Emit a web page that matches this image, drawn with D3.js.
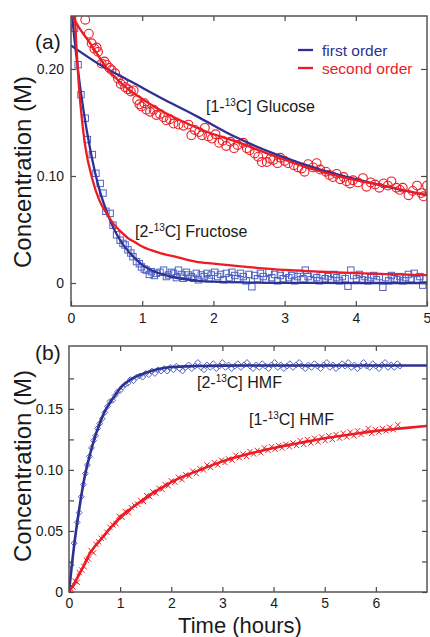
<!DOCTYPE html>
<html lang="en">
	<head>
		<meta charset="utf-8">
		<title>Glucose / Fructose kinetics</title>
		<script src="https://d3js.org/d3.v7.min.js"></script>
		<style>
			body { margin: 0; background: #fff; }
			text { font-family: 'Liberation Sans', Arial, sans-serif; fill: #1a1a1a; }
			.frame { fill: none; stroke: #4a4a4a; stroke-width: 1.4; }
			.axis path { display: none; }
			.axis line { stroke: #4a4a4a; stroke-width: 1.2; }
			.axis text { font-size: 14px; }
		</style>
	</head>
	<body>
		<script>
			var w = 430;
			var h = 637;

			// ---- panel (a) ticks
			var aXTicks = [0, 1, 2, 3, 4, 5];
			var aYTicks = [0, 0.1, 0.2];
			var aYLabels = ["0", "0.10", "0.20"];

			// ---- panel (b) ticks
			var bXTicks = [0, 1, 2, 3, 4, 5, 6];
			var bYTicks = [0, 0.05, 0.10, 0.15];
			var bYLabels = ["0", "0.05", "0.10", "0.15"];
			var bYMinor = [0.025, 0.075, 0.125, 0.175];

			// ---- panel (a) data: [time (h), concentration (M)]
			var glucosePts = [
				[0.20,0.246],[0.25,0.233],[0.29,0.224],[0.33,0.219],[0.36,0.220],[0.38,0.216],[0.43,0.205],[0.47,0.207],
				[0.50,0.204],[0.54,0.201],[0.57,0.199],[0.62,0.196],[0.66,0.191],[0.70,0.186],[0.73,0.188],[0.76,0.183],
				[0.80,0.181],[0.84,0.179],[0.88,0.180],[0.93,0.171],[0.96,0.167],[0.99,0.165],[1.03,0.168],[1.06,0.162],
				[1.11,0.160],[1.16,0.162],[1.20,0.157],[1.25,0.158],[1.30,0.155],[1.34,0.152],[1.39,0.153],[1.44,0.149],
				[1.51,0.148],[1.58,0.147],[1.65,0.148],[1.69,0.138],[1.74,0.143],[1.80,0.141],[1.84,0.138],[1.88,0.145],
				[1.93,0.137],[1.98,0.135],[2.03,0.139],[2.08,0.131],[2.13,0.133],[2.18,0.128],[2.24,0.132],[2.29,0.126],
				[2.34,0.129],[2.42,0.131],[2.47,0.126],[2.51,0.124],[2.58,0.121],[2.63,0.118],[2.68,0.113],[2.75,0.113],
				[2.80,0.116],[2.84,0.115],[2.90,0.112],[2.94,0.117],[3.00,0.114],[3.05,0.112],[3.13,0.110],[3.19,0.108],
				[3.24,0.107],[3.28,0.104],[3.33,0.111],[3.40,0.108],[3.45,0.112],[3.50,0.106],[3.58,0.104],[3.63,0.101],
				[3.68,0.099],[3.73,0.102],[3.78,0.097],[3.83,0.099],[3.87,0.095],[3.92,0.093],[3.96,0.096],[4.03,0.094],
				[4.10,0.098],[4.15,0.090],[4.21,0.094],[4.27,0.092],[4.33,0.089],[4.39,0.093],[4.45,0.091],[4.50,0.095],
				[4.57,0.089],[4.62,0.087],[4.66,0.089],[4.74,0.082],[4.80,0.086],[4.86,0.091],[4.92,0.084],[4.95,0.081],
				[5.00,0.091]
			];
			var fructosePts = [
				[0.05,0.238],[0.10,0.204],[0.14,0.176],[0.20,0.154],[0.23,0.134],[0.30,0.120],[0.35,0.1025],[0.41,0.093],
				[0.45,0.084],[0.49,0.067],[0.55,0.065],[0.59,0.054],[0.64,0.045],[0.69,0.040],[0.73,0.037],[0.76,0.0355],
				[0.80,0.031],[0.84,0.028],[0.87,0.0246],[0.92,0.020],[0.96,0.018],[0.99,0.015],[1.03,0.013],[1.06,0.012],
				[1.10,0.008],[1.13,0.0106],[1.17,0.007],[1.20,0.009],[1.25,0.010],[1.30,0.012],[1.34,0.006],[1.37,0.0075],
				[1.41,0.010],[1.44,0.009],[1.48,0.005],[1.51,0.012],[1.55,0.008],[1.58,0.0044],[1.62,0.010],[1.65,0.0075],
				[1.69,0.006],[1.72,0.0044],[1.76,0.009],[1.79,0.003],[1.83,0.0075],[1.87,0.006],[1.91,0.009],[1.94,0.004],
				[1.97,0.0075],[2.02,0.010],[2.06,0.006],[2.10,0.008],[2.14,0.003],[2.18,0.009],[2.22,0.005],[2.26,0.010],
				[2.30,0.007],[2.34,0.004],[2.38,0.009],[2.42,0.006],[2.46,0.002],[2.50,0.008],[2.54,-0.0035],[2.58,0.007],
				[2.62,0.004],[2.66,0.009],[2.70,0.006],[2.74,0.003],[2.78,0.010],[2.82,0.005],[2.86,0.008],[2.90,0.002],
				[2.94,0.007],[2.98,0.004],[3.02,0.009],[3.06,0.005],[3.10,0.007],[3.14,0.002],[3.18,0.006],[3.22,0.009],
				[3.26,0.004],[3.29,0.012],[3.33,0.006],[3.37,0.003],[3.41,0.008],[3.45,0.005],[3.49,0.002],[3.53,0.007],
				[3.57,0.004],[3.61,0.006],[3.65,0.003],[3.69,0.008],[3.73,0.005],[3.77,0.002],[3.81,0.006],[3.85,0.004],
				[3.89,-0.003],[3.93,0.012],[3.97,0.007],[4.01,0.004],[4.05,0.008],[4.09,0.003],[4.13,0.006],[4.17,0.002],
				[4.21,0.005],[4.25,0.007],[4.29,0.003],[4.33,0.006],[4.38,-0.004],[4.42,0.005],[4.46,0.002],[4.50,0.007],
				[4.54,0.004],[4.58,0.003],[4.62,0.006],[4.66,0.002],[4.70,0.005],[4.74,0.008],[4.78,0.004],[4.82,0.009],
				[4.86,0.003],[4.90,0.006],[4.94,-0.002],[4.98,0.004]
			];
			// fitted curves, panel (a)
			var glucoseFirst = [[0,0.222],[0.38,0.205],[0.85,0.188],[1.32,0.171],[1.79,0.155],[2.26,0.138],[2.89,0.120],[3.5,0.106],[4,0.097],[4.5,0.089],[5,0.082]];
			var glucoseSecond = [[0,0.252],[0.1,0.240],[0.27,0.224],[0.5,0.201],[0.76,0.1835],[1.0,0.172],[1.32,0.159],[1.6,0.150],[1.88,0.142],[2.37,0.131],[2.8,0.120],[3.31,0.108],[3.8,0.099],[4.24,0.093],[4.6,0.088],[5.0,0.082]];
			var fructoseFirst = [[0,0.26],[0.05,0.227],[0.1,0.198],[0.15,0.173],[0.2,0.151],[0.25,0.132],[0.3,0.115],[0.35,0.100],[0.4,0.087],[0.5,0.067],[0.6,0.051],[0.7,0.039],[0.8,0.030],[0.9,0.023],[1.0,0.017],[1.2,0.010],[1.4,0.006],[1.6,0.0035],[1.8,0.002],[2.0,0.0012],[2.5,0.0004],[3,0.0001],[4,0],[5,0]];
			var fructoseSecond = [[0,0.40],[0.02,0.33],[0.05,0.26],[0.1,0.195],[0.15,0.155],[0.2,0.128],[0.3,0.097],[0.4,0.077],[0.5,0.065],[0.6,0.055],[0.7,0.048],[0.8,0.042],[0.9,0.038],[1.0,0.034],[1.25,0.028],[1.5,0.024],[1.75,0.020],[2,0.018],[2.5,0.0148],[3,0.0122],[3.5,0.0105],[4,0.0092],[4.5,0.0082],[5,0.0074]];

			// ---- panel (b) data
			var hmf2Pts = [
				[0.04,0.022],[0.10,0.040],[0.16,0.057],[0.20,0.065],[0.24,0.078],[0.28,0.088],[0.32,0.097],[0.36,0.104],
				[0.40,0.111],[0.44,0.118],[0.48,0.124],[0.52,0.128],[0.56,0.134],[0.60,0.138],[0.65,0.142],[0.70,0.147],
				[0.75,0.152],[0.80,0.156],[0.85,0.157],[0.90,0.161],[0.95,0.164],[1.00,0.165],[1.05,0.168],[1.10,0.170],
				[1.15,0.171],[1.20,0.174],[1.26,0.173],[1.32,0.176],[1.38,0.177],[1.44,0.176],[1.50,0.179],[1.56,0.178],
				[1.62,0.181],[1.68,0.179],[1.74,0.182],[1.80,0.181],[1.86,0.183],[1.92,0.181],[1.98,0.184],[2.04,0.182],
				[2.10,0.185],[2.16,0.183],[2.22,0.181],[2.28,0.184],[2.34,0.186],[2.40,0.183],[2.46,0.185],[2.52,0.188],
				[2.58,0.184],[2.64,0.182],[2.70,0.186],[2.76,0.184],[2.82,0.187],[2.88,0.183],[2.94,0.185],[3.00,0.188],
				[3.06,0.184],[3.12,0.186],[3.18,0.183],[3.24,0.185],[3.30,0.187],[3.36,0.184],[3.42,0.186],[3.48,0.188],
				[3.54,0.185],[3.60,0.183],[3.66,0.186],[3.72,0.184],[3.78,0.187],[3.84,0.185],[3.90,0.183],[3.96,0.186],
				[4.02,0.188],[4.08,0.184],[4.14,0.186],[4.20,0.183],[4.26,0.185],[4.32,0.187],[4.38,0.184],[4.44,0.186],
				[4.50,0.188],[4.56,0.185],[4.62,0.183],[4.68,0.186],[4.74,0.184],[4.80,0.187],[4.86,0.185],[4.92,0.183],
				[4.98,0.186],[5.04,0.188],[5.10,0.184],[5.16,0.186],[5.22,0.183],[5.28,0.185],[5.34,0.187],[5.40,0.185],
				[5.46,0.188],[5.52,0.184],[5.58,0.186],[5.64,0.183],[5.70,0.185],[5.76,0.188],[5.82,0.185],[5.88,0.184],
				[5.94,0.187],[6.00,0.185],[6.06,0.183],[6.12,0.186],[6.18,0.188],[6.24,0.184],[6.30,0.186],[6.36,0.184],
				[6.42,0.187],[6.47,0.185]
			];
			var hmf1Pts = [
				[0.03,0.003],[0.08,0.004],[0.12,0.009],[0.16,0.008],[0.20,0.016],[0.25,0.018],[0.29,0.021],[0.34,0.026],
				[0.38,0.027],[0.43,0.034],[0.48,0.032],[0.53,0.039],[0.58,0.041],[0.63,0.044],[0.68,0.045],[0.74,0.049],
				[0.80,0.053],[0.86,0.055],[0.92,0.056],[0.98,0.062],[1.04,0.061],[1.10,0.066],[1.16,0.065],[1.22,0.069],
				[1.28,0.071],[1.34,0.072],[1.40,0.075],[1.46,0.074],[1.52,0.079],[1.58,0.078],[1.64,0.082],[1.70,0.081],
				[1.76,0.085],[1.82,0.084],[1.88,0.088],[1.94,0.087],[2.00,0.091],[2.07,0.090],[2.14,0.094],[2.21,0.092],
				[2.28,0.096],[2.35,0.095],[2.42,0.099],[2.49,0.097],[2.56,0.101],[2.63,0.100],[2.70,0.104],[2.77,0.102],
				[2.84,0.106],[2.91,0.104],[2.98,0.108],[3.05,0.106],[3.12,0.109],[3.19,0.108],[3.26,0.112],[3.33,0.110],
				[3.40,0.113],[3.47,0.111],[3.54,0.115],[3.61,0.113],[3.68,0.116],[3.75,0.114],[3.82,0.118],[3.89,0.116],
				[3.96,0.119],[4.03,0.117],[4.10,0.120],[4.17,0.118],[4.24,0.121],[4.31,0.119],[4.38,0.122],[4.45,0.120],
				[4.52,0.124],[4.59,0.121],[4.66,0.125],[4.73,0.122],[4.80,0.126],[4.87,0.123],[4.94,0.127],[5.01,0.124],
				[5.08,0.128],[5.15,0.125],[5.22,0.129],[5.29,0.126],[5.36,0.130],[5.43,0.127],[5.50,0.131],[5.57,0.128],
				[5.64,0.132],[5.71,0.129],[5.78,0.131],[5.85,0.134],[5.92,0.130],[5.99,0.133],[6.06,0.131],[6.13,0.134],
				[6.20,0.132],[6.27,0.135],[6.34,0.133],[6.43,0.137]
			];
			var hmf2Fit = [[0,0],[0.1,0.038],[0.2,0.068],[0.3,0.093],[0.4,0.111],[0.5,0.126],[0.6,0.138],[0.7,0.148],[0.8,0.155],[0.9,0.161],[1.0,0.167],[1.2,0.174],[1.4,0.178],[1.6,0.181],[1.8,0.183],[2.0,0.1843],[2.5,0.1851],[3,0.1854],[4,0.1855],[5,0.1855],[7,0.1855]];
			var hmf1Fit = [[0,0],[0.1,0.0068],[0.2,0.0145],[0.3,0.0225],[0.4,0.031],[0.5,0.037],[0.6,0.042],[0.8,0.052],[1.0,0.061],[1.2,0.068],[1.4,0.074],[1.6,0.080],[1.8,0.085],[2.0,0.090],[2.5,0.099],[3.0,0.107],[3.5,0.113],[4.0,0.118],[4.5,0.122],[5.0,0.126],[5.5,0.129],[6.0,0.132],[6.5,0.134],[7.0,0.136]];

			var blue = "#2e3192";
			var blueMark = "#4f63c4";
			var red = "#ec1c24";

			var svg = d3.select("body")
						.append("svg")
						.attr("width", w)
						.attr("height", h);

			// ================= PANEL (a)
			var ax = {l: 71, r: 427, t: 16, b: 306};
			var xA = d3.scaleLinear().domain([0, 5]).range([ax.l, ax.r]);
			var yA = d3.scaleLinear().domain([-0.0215, 0.2495]).range([ax.b, ax.t]);

			svg.append("clipPath").attr("id", "clipA")
				.append("rect").attr("x", ax.l).attr("y", ax.t)
				.attr("width", ax.r - ax.l).attr("height", ax.b - ax.t);

			var gA = svg.append("g").attr("clip-path", "url(#clipA)");

			gA.selectAll("circle.glu")
				.data(glucosePts)
				.enter()
				.append("circle")
				.attr("class", "glu")
				.attr("cx", function(d) { return xA(d[0]); })
				.attr("cy", function(d) { return yA(d[1]); })
				.attr("r", 4.4)
				.attr("fill", "none")
				.attr("stroke", red)
				.attr("stroke-width", 1.1);

			gA.selectAll("rect.fru")
				.data(fructosePts)
				.enter()
				.append("rect")
				.attr("class", "fru")
				.attr("x", function(d) { return xA(d[0]) - 3.2; })
				.attr("y", function(d) { return yA(d[1]) - 3.2; })
				.attr("width", 6.4)
				.attr("height", 6.4)
				.attr("fill", "none")
				.attr("stroke", blueMark)
				.attr("stroke-width", 1);

			var lineA = d3.line()
				.x(function(d) { return xA(d[0]); })
				.y(function(d) { return yA(d[1]); })
				.curve(d3.curveMonotoneX);

			[[glucoseFirst, blue], [fructoseFirst, blue], [glucoseSecond, red], [fructoseSecond, red]].forEach(function(s) {
				gA.append("path")
					.datum(s[0])
					.attr("d", lineA)
					.attr("fill", "none")
					.attr("stroke", s[1])
					.attr("stroke-width", 2.3);
			});

			svg.append("rect").attr("class", "frame")
				.attr("x", ax.l).attr("y", ax.t)
				.attr("width", ax.r - ax.l).attr("height", ax.b - ax.t);

			svg.append("g").attr("class", "axis")
				.attr("transform", "translate(0," + ax.b + ")")
				.call(d3.axisBottom(xA).tickValues(aXTicks).tickSize(-5).tickPadding(7).tickFormat(d3.format("d")));
			svg.append("g").attr("class", "axis")
				.attr("transform", "translate(0," + ax.t + ")")
				.call(d3.axisTop(xA).tickValues(aXTicks.slice(1, -1)).tickSize(-5).tickFormat(""));
			svg.append("g").attr("class", "axis")
				.attr("transform", "translate(" + ax.l + ",0)")
				.call(d3.axisLeft(yA).tickValues(aYTicks).tickSize(-5).tickPadding(7)
					.tickFormat(function(d, i) { return aYLabels[i]; }));
			svg.append("g").attr("class", "axis")
				.attr("transform", "translate(" + ax.r + ",0)")
				.call(d3.axisRight(yA).tickValues(aYTicks).tickSize(-6).tickFormat(""));

			svg.append("text").attr("x", 35).attr("y", 49).attr("font-size", 21).text("(a)");

			// legend
			var legend = [["first order", blue], ["second order", red]];
			legend.forEach(function(d, i) {
				svg.append("line")
					.attr("x1", 298).attr("x2", 313)
					.attr("y1", 50 + i * 18).attr("y2", 50 + i * 18)
					.attr("stroke", d[1]).attr("stroke-width", 2.3);
				svg.append("text")
					.attr("x", 322).attr("y", 55.5 + i * 18)
					.attr("font-size", 15.5)
					.style("fill", d[1])
					.text(d[0]);
			});

			function label(x, y, num, rest) {
				var t = svg.append("text").attr("x", x).attr("y", y).attr("font-size", 16);
				t.append("tspan").text("[" + num + "-");
				t.append("tspan").attr("font-size", 10).attr("dy", -6).text("13");
				t.append("tspan").attr("dy", 6).text("C] " + rest);
			}
			label(206, 112, "1", "Glucose");
			label(135, 237, "2", "Fructose");

			// y label (a)
			svg.append("text")
				.attr("transform", "translate(31,172) rotate(-90)")
				.attr("text-anchor", "middle")
				.attr("font-size", 24)
				.text("Concentration (M)");

			// ================= PANEL (b)
			var bx = {l: 69, r: 427, t: 346, b: 592};
			var xB = d3.scaleLinear().domain([0, 7]).range([bx.l, bx.r]);
			var yB = d3.scaleLinear().domain([0, 0.2015]).range([bx.b, bx.t]);

			svg.append("clipPath").attr("id", "clipB")
				.append("rect").attr("x", bx.l).attr("y", bx.t)
				.attr("width", bx.r - bx.l).attr("height", bx.b - bx.t);

			var gB = svg.append("g").attr("clip-path", "url(#clipB)");

			gB.selectAll("path.dia")
				.data(hmf2Pts)
				.enter()
				.append("path")
				.attr("class", "dia")
				.attr("d", d3.symbol().type(d3.symbolDiamond2).size(22))
				.attr("transform", function(d) { return "translate(" + xB(d[0]) + "," + yB(d[1]) + ")"; })
				.attr("fill", "none")
				.attr("stroke", blueMark)
				.attr("stroke-width", 1);

			gB.selectAll("path.crs")
				.data(hmf1Pts)
				.enter()
				.append("path")
				.attr("class", "crs")
				.attr("d", d3.symbol().type(d3.symbolTimes).size(20))
				.attr("transform", function(d) { return "translate(" + xB(d[0]) + "," + yB(d[1]) + ")"; })
				.attr("fill", "none")
				.attr("stroke", red)
				.attr("stroke-width", 1);

			var lineB = d3.line()
				.x(function(d) { return xB(d[0]); })
				.y(function(d) { return yB(d[1]); })
				.curve(d3.curveMonotoneX);

			[[hmf2Fit, blue], [hmf1Fit, red]].forEach(function(s) {
				gB.append("path")
					.datum(s[0])
					.attr("d", lineB)
					.attr("fill", "none")
					.attr("stroke", s[1])
					.attr("stroke-width", 2.6);
			});

			svg.append("rect").attr("class", "frame")
				.attr("x", bx.l).attr("y", bx.t)
				.attr("width", bx.r - bx.l).attr("height", bx.b - bx.t);

			svg.append("g").attr("class", "axis")
				.attr("transform", "translate(0," + bx.b + ")")
				.call(d3.axisBottom(xB).tickValues(bXTicks).tickSize(-5).tickPadding(6).tickFormat(d3.format("d")));
			svg.append("g").attr("class", "axis")
				.attr("transform", "translate(0," + bx.t + ")")
				.call(d3.axisTop(xB).tickValues(bXTicks.slice(1)).tickSize(-5).tickFormat(""));
			svg.append("g").attr("class", "axis")
				.attr("transform", "translate(" + bx.l + ",0)")
				.call(d3.axisLeft(yB).tickValues(bYTicks).tickSize(-5).tickPadding(6)
					.tickFormat(function(d, i) { return bYLabels[i]; }));
			svg.append("g").attr("class", "axis")
				.attr("transform", "translate(" + bx.l + ",0)")
				.call(d3.axisLeft(yB).tickValues(bYMinor).tickSize(-5).tickFormat(""));
			svg.append("g").attr("class", "axis")
				.attr("transform", "translate(" + bx.r + ",0)")
				.call(d3.axisRight(yB).tickValues(bYTicks.concat(bYMinor)).tickSize(-5).tickFormat(""));

			svg.append("text").attr("x", 35).attr("y", 360).attr("font-size", 21).text("(b)");

			label(197, 388, "2", "HMF");
			label(249, 425, "1", "HMF");

			svg.append("text")
				.attr("transform", "translate(31,466) rotate(-90)")
				.attr("text-anchor", "middle")
				.attr("font-size", 24)
				.text("Concentration (M)");

			svg.append("text")
				.attr("x", 240).attr("y", 633)
				.attr("text-anchor", "middle")
				.attr("font-size", 22)
				.text("Time (hours)");
		</script>
	</body>
</html>
